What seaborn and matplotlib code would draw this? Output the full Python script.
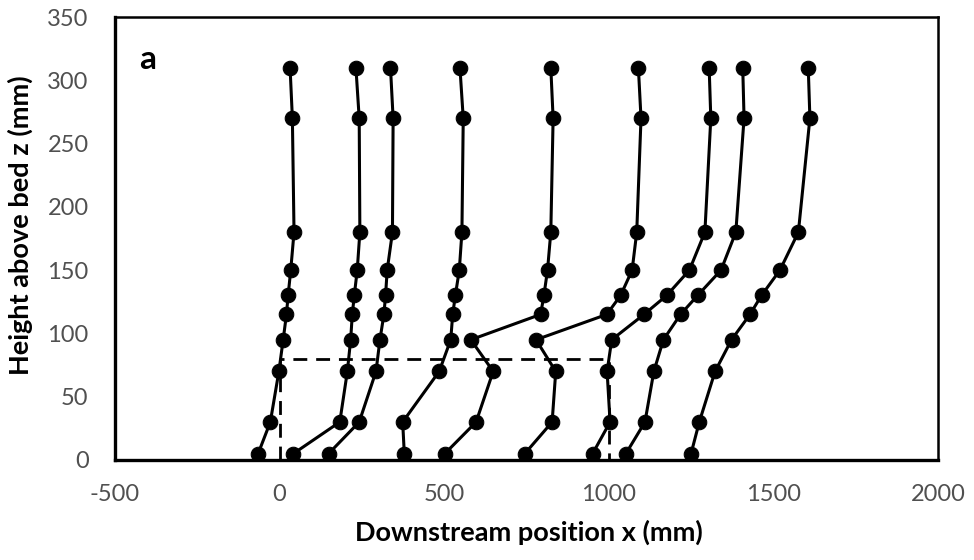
import matplotlib
matplotlib.use("Agg")
import matplotlib.pyplot as plt
import seaborn as sns
import numpy as np

# Heights above bed (mm)
z = [5, 30, 70, 95, 115, 130, 150, 180, 270, 310]

# Downstream positions x (mm) of each profile, ordered by z
p1 = [-65, -28, -2, 11, 21, 26, 34, 44, 39, 32]
p2 = [42, 183, 206, 216, 221, 227, 236, 244, 242, 232]
p3 = [149, 242, 293, 305, 317, 322, 327, 343, 345, 337]
p4 = [379, 374, 485, 520, 526, 534, 546, 554, 558, 548]
p5 = [502, 597, 649, 581, 793, 803, 814, 824, 831, 824]
p6 = [745, 828, 839, 779, 994, 1036, 1071, 1085, 1098, 1090]
p7 = [951, 1004, 995, 1009, 1107, 1176, 1245, 1292, 1310, 1305]
p8 = [1052, 1110, 1137, 1166, 1218, 1270, 1341, 1386, 1411, 1407]
p9 = [1250, 1275, 1323, 1373, 1429, 1464, 1520, 1576, 1611, 1606]
profiles = [p1, p2, p3, p4, p5, p6, p7, p8, p9]

# Dashed outline of the region
box_x = [0, 0, 1000, 1000]
box_z = [0, 80, 80, 0]

x_ticks = [-500, 0, 500, 1000, 1500, 2000]
y_ticks = [0, 50, 100, 150, 200, 250, 300, 350]

sns.set_theme(style="white")
plt.rcParams['font.family'] = ['Lato', 'DejaVu Sans']
plt.rcParams['axes.unicode_minus'] = False

fig = plt.figure(figsize=(9.74, 5.6), dpi=100)
ax = fig.add_axes([0.118, 0.1786, 0.845, 0.791])

for p in profiles:
    sns.lineplot(x=p, y=z, sort=False, estimator=None, ax=ax, color="black",
                 linewidth=2.2, marker="o", markersize=10.5,
                 markeredgecolor="black", markerfacecolor="black", zorder=3)

ax.plot(box_x, box_z, color="black", linewidth=2.0, linestyle=(0, (5, 3.2)), zorder=2)

ax.set_xlim(-500, 2000)
ax.set_ylim(0, 350)
ax.set_xticks(x_ticks)
ax.set_yticks(y_ticks)
ax.tick_params(axis="both", length=0, labelsize=17, labelcolor="#505050")
ax.tick_params(axis="y", pad=19)
ax.tick_params(axis="x", pad=17)
ax.set_xlabel("Downstream position x (mm)", fontsize=19.5, fontweight="bold", color="black")
ax.set_ylabel("Height above bed z (mm)", fontsize=19.5, fontweight="bold", color="black")
ax.xaxis.set_label_coords(0.503, -0.134)
ax.yaxis.set_label_coords(-0.100, 0.53)
ax.grid(False)
for s in ax.spines.values():
    s.set_color("black")
    s.set_linewidth(1.8)
ax.spines["left"].set_linewidth(2.4)
ax.spines["bottom"].set_linewidth(2.4)

ax.text(-400, 309, "a", fontsize=24, fontweight="bold", color="black",
        ha="center", va="baseline")

fig.savefig("out.png", dpi=100)
